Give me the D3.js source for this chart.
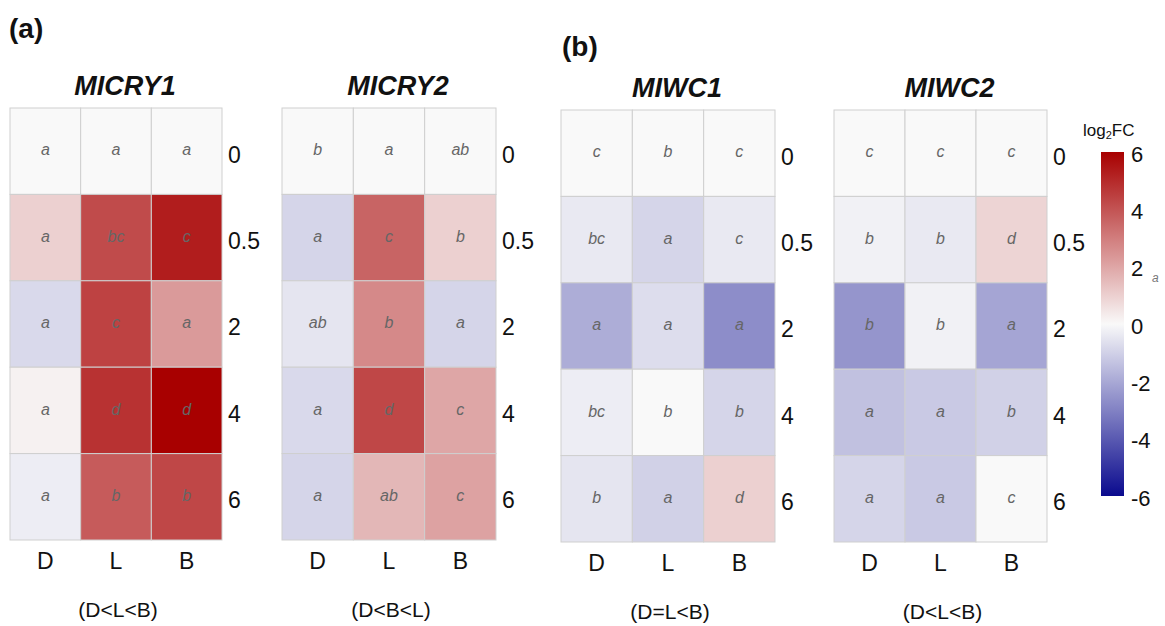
<!DOCTYPE html>
<html>
<head>
<meta charset="utf-8">
<script src="https://cdn.jsdelivr.net/npm/d3@7"></script>
<style>
  html, body { margin: 0; padding: 0; background: #fff; }
  svg { display: block; font-family: "Liberation Sans", Arial, sans-serif; }
</style>
</head>
<body>
<svg id="chart" width="1165" height="626"></svg>
<script>
// Treatments (columns) and time points (rows)
const treatments = ["D", "L", "B"];
const timepoints = ["0", "0.5", "2", "4", "6"];

// log2 fold change, one row per time point, columns D, L, B
const micry1Values = [
  [0.0, 0.0, 0.0],
  [1.0, 4.2, 5.3],
  [-0.8, 4.4, 2.3],
  [0.2, 4.8, 6.0],
  [-0.3, 3.8, 4.3]
];
const micry2Values = [
  [0.0, 0.0, 0.0],
  [-0.9, 3.6, 1.0],
  [-0.5, 2.7, -0.9],
  [-0.8, 4.3, 2.0],
  [-0.9, 1.6, 2.1]
];
const miwc1Values = [
  [0.0, 0.0, 0.0],
  [-0.4, -0.9, -0.4],
  [-1.9, -0.7, -2.7],
  [-0.3, 0.0, -0.9],
  [-0.5, -1.0, 1.0]
];
const miwc2Values = [
  [0.0, 0.0, 0.0],
  [-0.2, -0.4, 0.9],
  [-2.5, -0.2, -2.1],
  [-1.4, -1.2, -1.0],
  [-0.9, -1.2, 0.0]
];

// Significance letters
const micry1Letters = [["a","a","a"],["a","bc","c"],["a","c","a"],["a","d","d"],["a","b","b"]];
const micry2Letters = [["b","a","ab"],["a","c","b"],["ab","b","a"],["a","d","c"],["a","ab","c"]];
const miwc1Letters  = [["c","b","c"],["bc","a","c"],["a","a","a"],["bc","b","b"],["b","a","d"]];
const miwc2Letters  = [["c","c","c"],["b","b","d"],["b","b","a"],["a","a","b"],["a","a","c"]];

const geneNames = ["MICRY1", "MICRY2", "MIWC1", "MIWC2"];
const orderNotes = ["(D<L<B)", "(D<B<L)", "(D=L<B)", "(D<L<B)"];
const colorTicks = [6, 4, 2, 0, -2, -4, -6];

const svg = d3.select("#chart");
const FONT = "Liberation Sans, Arial, sans-serif";

// Diverging colour scale: navy - near white - dark red
const color = d3.scaleLinear()
  .domain([-6, 0, 6])
  .range(["#0a0a8e", "#f9f9f9", "#a80000"])
  .interpolate(d3.interpolateRgb)
  .clamp(true);

const panels = [
  { values: micry1Values, letters: micry1Letters, x0: 10,  x1: 222,  y0: 108, y1: 540 },
  { values: micry2Values, letters: micry2Letters, x0: 282, x1: 496,  y0: 108, y1: 540 },
  { values: miwc1Values,  letters: miwc1Letters,  x0: 561, x1: 775,  y0: 110, y1: 542 },
  { values: miwc2Values,  letters: miwc2Letters,  x0: 834, x1: 1047, y0: 110, y1: 542 }
];

panels.forEach((p, i) => {
  const x = d3.scaleBand().domain(treatments).range([p.x0, p.x1]);
  const y = d3.scaleBand().domain(timepoints).range([p.y0, p.y1]);
  const g = svg.append("g");

  const cells = [];
  timepoints.forEach((t, r) => treatments.forEach((tr, c) => {
    cells.push({ t, tr, v: p.values[r][c], letter: p.letters[r][c] });
  }));

  g.selectAll("rect.cell").data(cells).join("rect")
    .attr("class", "cell")
    .attr("x", d => x(d.tr))
    .attr("y", d => y(d.t))
    .attr("width", x.bandwidth())
    .attr("height", y.bandwidth())
    .attr("fill", d => color(d.v))
    .attr("stroke", "#cfcfcf")
    .attr("stroke-width", 1);

  g.selectAll("text.letter").data(cells).join("text")
    .attr("class", "letter")
    .attr("x", d => x(d.tr) + x.bandwidth() / 2)
    .attr("y", d => y(d.t) + y.bandwidth() / 2)
    .attr("text-anchor", "middle")
    .attr("dominant-baseline", "middle")
    .attr("font-style", "italic")
    .attr("font-size", 16)
    .attr("fill", "#666")
    .text(d => d.letter);

  // Row labels (right) and column labels (bottom)
  const yAxis = d3.axisRight(y).tickSize(0).tickPadding(6);
  g.append("g").attr("transform", `translate(${p.x1},4)`).call(yAxis)
    .call(a => a.select(".domain").remove())
    .selectAll("text").attr("font-size", 23).attr("fill", "#111")
    .attr("font-family", FONT);

  const xAxis = d3.axisBottom(x).tickSize(0).tickPadding(13);
  g.append("g").attr("transform", `translate(0,${p.y1})`).call(xAxis)
    .call(a => a.select(".domain").remove())
    .selectAll("text").attr("font-size", 23).attr("fill", "#111")
    .attr("font-family", FONT);

  // Gene title
  svg.append("text")
    .attr("x", (p.x0 + p.x1) / 2 + 9)
    .attr("y", p.y0 - 13)
    .attr("text-anchor", "middle")
    .attr("font-weight", "bold")
    .attr("font-style", "italic")
    .attr("font-size", 27)
    .attr("fill", "#111")
    .text(geneNames[i]);

  // Order note under the panel
  svg.append("text")
    .attr("x", (p.x0 + p.x1) / 2 + 2)
    .attr("y", p.y1 + 77)
    .attr("text-anchor", "middle")
    .attr("font-size", 21)
    .attr("fill", "#111")
    .text(orderNotes[i]);
});

// Panel tags
svg.append("text").attr("x", 9).attr("y", 38)
  .attr("font-weight", "bold").attr("font-size", 28).attr("fill", "#111").text("(a)");
svg.append("text").attr("x", 562).attr("y", 56)
  .attr("font-weight", "bold").attr("font-size", 28).attr("fill", "#111").text("(b)");

// Colour bar
const cbX = 1101, cbW = 23, cbTop = 152, cbBottom = 496;
const cbScale = d3.scaleLinear().domain([6, -6]).range([cbTop, cbBottom]);
const defs = svg.append("defs");
const grad = defs.append("linearGradient")
  .attr("id", "cbgrad").attr("x1", 0).attr("y1", 0).attr("x2", 0).attr("y2", 1);
d3.range(0, 1.0001, 0.05).forEach(f => {
  grad.append("stop")
    .attr("offset", f)
    .attr("stop-color", color(6 - 12 * f));
});
svg.append("rect")
  .attr("x", cbX).attr("y", cbTop)
  .attr("width", cbW).attr("height", cbBottom - cbTop)
  .attr("fill", "url(#cbgrad)");

const cbAxis = d3.axisRight(cbScale).tickValues(colorTicks)
  .tickFormat(d => String(d)).tickSize(0).tickPadding(7);
svg.append("g").attr("transform", `translate(${cbX + cbW},2)`).call(cbAxis)
  .call(a => a.select(".domain").remove())
  .selectAll("text").attr("font-size", 22).attr("fill", "#111")
  .attr("font-family", FONT);

const cbTitle = svg.append("text")
  .attr("x", 1083).attr("y", 136)
  .attr("font-size", 17).attr("fill", "#111");
cbTitle.append("tspan").text("log");
cbTitle.append("tspan").attr("font-size", 11).attr("dy", 3).text("2");
cbTitle.append("tspan").attr("dy", -3).text("FC");

// Small letter beside the colour bar
svg.append("text")
  .attr("x", 1152).attr("y", 282)
  .attr("font-size", 12).attr("font-style", "italic").attr("fill", "#777")
  .text("a");
</script>
</body>
</html>
